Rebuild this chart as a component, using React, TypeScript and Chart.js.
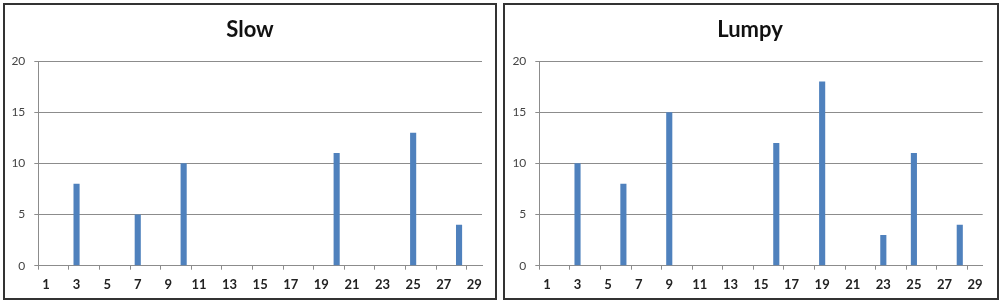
import React, { useEffect, useRef } from "react";
import { Chart, registerables } from "chart.js";

Chart.register(...registerables);

const categories: string[] = Array.from({ length: 29 }, (_, i) => String(i + 1));
// values indexed by category 1..29 (null = no bar)
const slowValues: (number | null)[] = [
  null, null, 8, null, null, null, 5, null, null, 10,
  null, null, null, null, null, null, null, null, null, 11,
  null, null, null, null, 13, null, null, 4, null,
];
const lumpyValues: (number | null)[] = [
  null, null, 10, null, null, 8, null, null, 15, null,
  null, null, null, null, null, 12, null, null, 18, null,
  null, null, 3, null, 11, null, null, 4, null,
];
const yTicks: number[] = [0, 5, 10, 15, 20];

const BAR = "#4F81BD";
const GRID = "#8c8c8c";
const FONT = "Lato, 'Open Sans', sans-serif";

type Cfg = { title: string; values: (number | null)[]; yWidth: number; rightGap: number };

function BarChart({ title, values, yWidth, rightGap }: Cfg) {
  const ref = useRef<HTMLCanvasElement>(null);
  useEffect(() => {
    if (!ref.current) return;
    const chart = new Chart(ref.current, {
      type: "bar",
      data: {
        labels: categories,
        datasets: [
          {
            data: values as any,
            backgroundColor: BAR,
            borderWidth: 0,
            categoryPercentage: 1,
            barPercentage: 0.4,
            yAxisID: "y",
          },
        ],
      },
      options: {
        animation: false,
        responsive: false,
        devicePixelRatio: 1,
        layout: { padding: 0 },
        plugins: {
          legend: { display: false },
          tooltip: { enabled: false },
          title: {
            display: true,
            text: title,
            color: "#111",
            font: { family: FONT, size: 22, weight: "bold" },
            padding: { top: 17, bottom: 17.6 },
          },
        },
        scales: {
          x: {
            offset: true,
            grid: {
              offset: true,
              drawOnChartArea: false,
              drawTicks: true,
              tickLength: 4,
              color: (ctx: any) => (ctx.index % 2 === 0 && ctx.index < 29 ? GRID : "rgba(0,0,0,0)"),
            },
            border: { display: true, color: GRID, width: 1 },
            ticks: {
              autoSkip: false,
              maxRotation: 0,
              minRotation: 0,
              padding: 7,
              color: "#222",
              font: { family: FONT, size: 13, weight: "bold" },
              callback: (_v: any, i: number) => (i % 2 === 0 ? categories[i] : ""),
            },
            afterFit: (s: any) => {
              s.height = 40.3;
            },
          },
          y: {
            position: "left",
            min: 0,
            max: 20,
            afterBuildTicks: (s: any) => {
              s.ticks = yTicks.map((v) => ({ value: v }));
            },
            grid: { color: GRID, tickLength: 4, drawTicks: true },
            border: { display: true, color: GRID, width: 1 },
            ticks: {
              padding: 9,
              color: "#444",
              font: { family: FONT, size: 12 },
            },
            afterFit: (s: any) => {
              s.width = yWidth;
            },
          },
          gap: {
            type: "linear",
            position: "right",
            display: true,
            grid: { display: false, drawTicks: false },
            border: { display: false },
            ticks: { display: false },
            afterFit: (s: any) => {
              s.width = rightGap;
            },
          },
        },
      },
    });
    return () => chart.destroy();
  }, [title, values, yWidth, rightGap]);
  return <canvas ref={ref} width={500} height={306} style={{ display: "block", width: 500, height: 306 }} />;
}

export default function App() {
  return (
    <div style={{ position: "fixed", left: 0, top: 0, width: 1005, height: 306, background: "#fff" }}>
      <div style={{ position: "absolute", left: 3, top: 3, width: 494, height: 297, boxSizing: "border-box", border: "2px solid #333" }} />
      <div style={{ position: "absolute", left: 503, top: 3, width: 496, height: 297, boxSizing: "border-box", border: "2px solid #333" }} />
      <div style={{ position: "absolute", left: 0, top: 0 }}>
        <BarChart title="Slow" values={slowValues} yWidth={38.3} rightGap={18} />
      </div>
      <div style={{ position: "absolute", left: 500, top: 0 }}>
        <BarChart title="Lumpy" values={lumpyValues} yWidth={39.3} rightGap={17.3} />
      </div>
    </div>
  );
}
